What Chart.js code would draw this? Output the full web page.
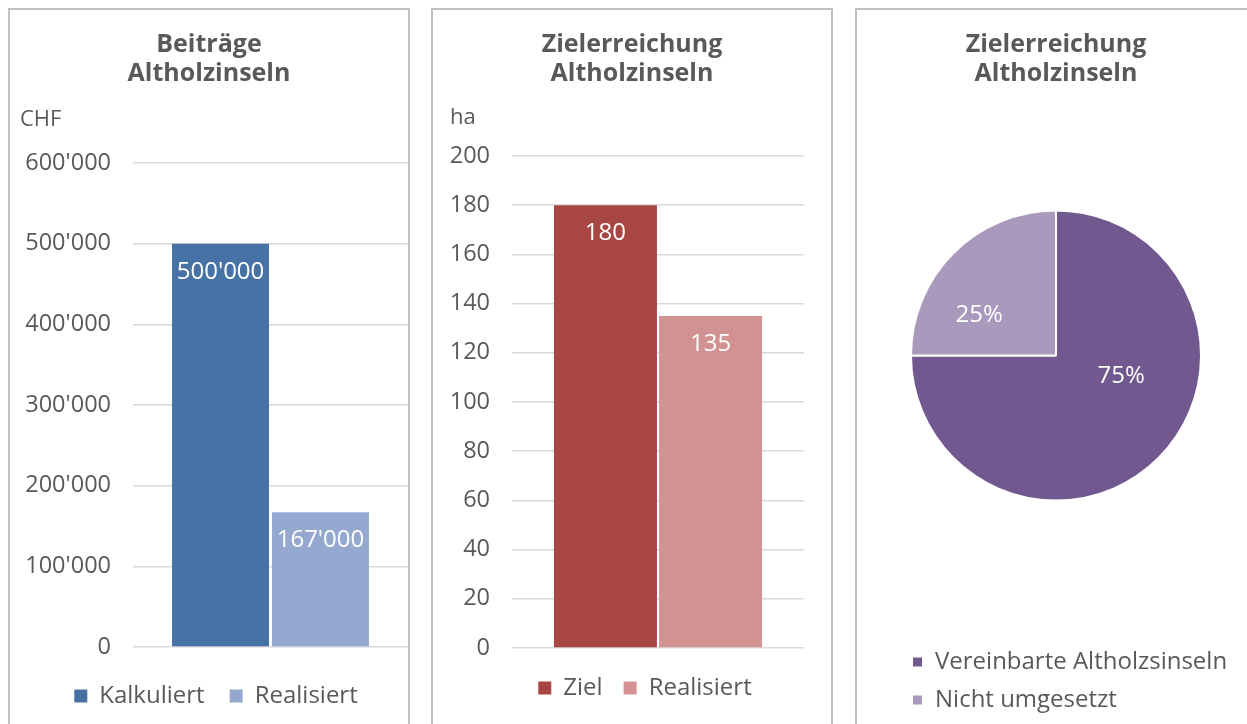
<!DOCTYPE html>
<html>
<head>
<meta charset="utf-8">
<script src="https://cdn.jsdelivr.net/npm/chart.js@4/dist/chart.umd.min.js"></script>
<style>
  html, body { margin: 0; padding: 0; background: #fff; overflow: hidden; width: 1247px; height: 724px; }
  .panel { position: absolute; top: 8px; width: 398px; height: 740px; border: 2px solid #C0C0C0; }
  .panel canvas { position: absolute; left: 0; top: 0; }
</style>
</head>
<body>
<div class="panel" style="left:8px"><canvas id="beitraege" width="398" height="714"></canvas></div>
<div class="panel" style="left:431px"><canvas id="zielHa" width="398" height="714"></canvas></div>
<div class="panel" style="left:855px"><canvas id="zielPie" width="400" height="714"></canvas></div>
<script>
// Beiträge Altholzinseln (CHF)
const beitragLabels = ["Kalkuliert", "Realisiert"];
const beitragValues = [500000, 167000];
const chfTicks = [0, 100000, 200000, 300000, 400000, 500000, 600000];

// Zielerreichung Altholzinseln (ha)
const zielLabels = ["Ziel", "Realisiert"];
const zielValues = [180, 135];
const haTicks = [0, 20, 40, 60, 80, 100, 120, 140, 160, 180, 200];

// Zielerreichung Altholzinseln (Anteil)
const pieLabels = ["Vereinbarte Altholzsinseln", "Nicht umgesetzt"];
const pieValues = [75, 25];

const textColor = "#595959";
Chart.defaults.font.family = '"Open Sans", "Noto Sans", sans-serif';
Chart.defaults.color = textColor;

function swiss(v) {
    return String(v).replace(/\B(?=(\d{3})+(?!\d))/g, "'");
}

// white value labels inside the bars / slices
const valueLabels = {
    id: "valueLabels",
    afterDatasetsDraw(chart, args, opts) {
        const ctx = chart.ctx;
        ctx.save();
        ctx.fillStyle = "#ffffff";
        ctx.font = '24px "Open Sans", sans-serif';
        ctx.textAlign = "center";
        ctx.textBaseline = "middle";
        chart.data.datasets.forEach((ds, i) => {
            const meta = chart.getDatasetMeta(i);
            meta.data.forEach((el, j) => {
                const v = ds.data[j];
                if (meta.type === "pie") {
                    const total = ds.data.reduce((a, b) => a + b, 0);
                    const off = opts.offsets[j];
                    ctx.fillText(Math.round(v / total * 100) + "%",
                        el.x + off[0] * el.outerRadius, el.y + off[1] * el.outerRadius);
                } else {
                    ctx.fillText(swiss(v), el.x, el.y + 28);
                }
            });
        });
        ctx.restore();
    }
};

// small horizontal shifts of title / legend boxes after layout
const nudge = {
    id: "nudge",
    afterLayout(chart, args, opts) {
        if (opts.title) {
            chart.titleBlock.left += opts.title;
            chart.titleBlock.right += opts.title;
        }
        if (opts.legend) {
            chart.legend.left += opts.legend;
            chart.legend.right += opts.legend;
        }
    }
};

function titleOpts(lines) {
    return {
        display: true,
        text: lines,
        color: textColor,
        font: { size: 25, weight: "bold", lineHeight: 1.16 },
        padding: { top: 20, bottom: 8 }
    };
}

function barChart(id, labels, values, ticks, max, unit, colors, o) {
    return new Chart(document.getElementById(id), {
        type: "bar",
        data: {
            labels: [""],
            datasets: labels.map((l, i) => ({
                label: l,
                data: [values[i]],
                backgroundColor: colors[i],
                categoryPercentage: o.catPct,
                barPercentage: o.barPct
            }))
        },
        options: {
            responsive: false,
            animation: false,
            layout: { padding: { left: o.padLeft, right: o.padRight, top: 0, bottom: o.padBottom } },
            plugins: {
                title: titleOpts(o.title),
                subtitle: {
                    display: true,
                    text: unit,
                    align: "start",
                    color: textColor,
                    font: { size: 22 },
                    padding: { top: o.subTop, bottom: o.subBottom }
                },
                legend: {
                    position: "bottom",
                    labels: { boxWidth: 13, boxHeight: 13, font: { size: 24 }, color: textColor, padding: o.legendPad }
                },
                tooltip: { enabled: false },
                nudge: o.nudge
            },
            scales: {
                x: {
                    grid: { display: false },
                    border: { display: false },
                    ticks: { display: false },
                    afterFit: s => { s.height = o.xGap; }
                },
                y: {
                    min: 0,
                    max: max,
                    afterBuildTicks: s => { s.ticks = ticks.map(v => ({ value: v })); },
                    afterFit: s => { s.width = o.axisWidth; },
                    border: { display: false },
                    grid: { color: "#D9D9D9", lineWidth: 1.5, drawTicks: false },
                    ticks: { padding: 22, font: { size: 23.5 }, color: textColor, callback: v => swiss(v) }
                }
            }
        },
        plugins: [valueLabels, nudge]
    });
}

barChart("beitraege", beitragLabels, beitragValues, chfTicks, 600000, "CHF",
    ["#4672A6", "#95A9D0"],
    { title: ["Beiträge", "Altholzinseln"], catPct: 0.727, barPct: 0.97, padLeft: 10, padRight: 0,
      padBottom: 6, subTop: 10.8, subBottom: 29.8, axisWidth: 113, legendPad: 25, xGap: 12,
      nudge: { title: -5, legend: 2 } });

barChart("zielHa", zielLabels, zielValues, haTicks, 200, "ha",
    ["#A84644", "#D39292"],
    { title: ["Zielerreichung", "Altholzinseln"], catPct: 0.72, barPct: 0.98, padLeft: 17, padRight: 27,
      padBottom: 14, subTop: 8.3, subBottom: 25.3, axisWidth: 62, legendPad: 21, xGap: 7,
      nudge: { title: 5, legend: 18 } });

new Chart(document.getElementById("zielPie"), {
    type: "pie",
    data: {
        labels: pieLabels,
        datasets: [{
            data: pieValues,
            backgroundColor: ["#71588F", "#A99ABD"],
            borderColor: "#ffffff",
            borderWidth: 2,
            radius: 145
        }]
    },
    options: {
        responsive: false,
        animation: false,
        layout: { padding: { left: 27, right: 29, top: 0, bottom: 2 } },
        plugins: {
            title: titleOpts(["Zielerreichung", "Altholzinseln"]),
            legend: {
                position: "bottom",
                align: "start",
                title: { display: true, text: " ", font: { size: 1, lineHeight: 1 }, padding: { top: 10, bottom: 10 } },
                labels: { boxWidth: 11, boxHeight: 11, font: { size: 24 }, color: textColor, padding: 14 }
            },
            tooltip: { enabled: false },
            valueLabels: { offsets: [[0.45, 0.145], [-0.53, -0.28]] },
            nudge: { legend: 14 }
        }
    },
    plugins: [valueLabels, nudge]
});
</script>
</body>
</html>
